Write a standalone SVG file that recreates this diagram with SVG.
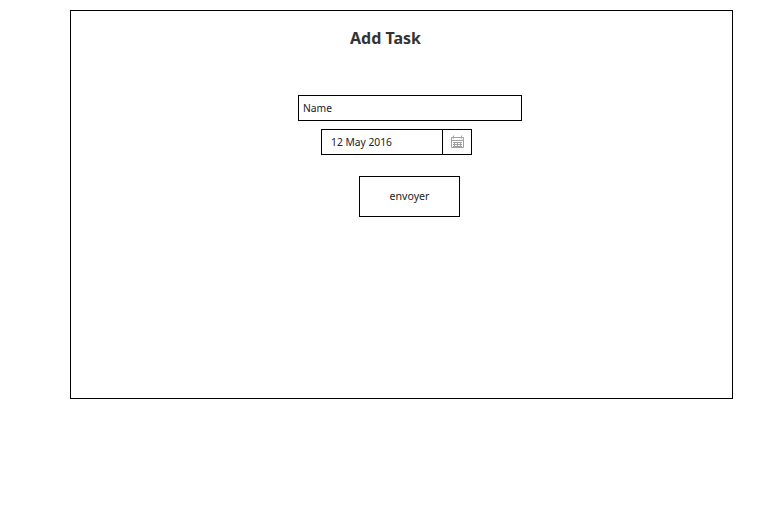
<svg xmlns="http://www.w3.org/2000/svg" width="782" height="508" viewBox="0 0 782 508">
<style>
rect{fill:#fff;stroke:#000;stroke-width:1}
text{font-family:"Noto Sans","Open Sans",sans-serif;font-size:11px;fill:#222}
.i{fill:none;stroke:#a0a0a0;stroke-width:1}
</style>
<rect width="782" height="508" style="stroke:none"/>
<g id="frame"><rect x="70.500" y="10.500" width="662" height="388"/></g>
<g id="title"><text x="350" y="43.500" style="font-size:16px;font-weight:700;fill:#333" textLength="71" lengthAdjust="spacingAndGlyphs">Add Task</text></g>
<g id="name-field"><rect x="298.500" y="95.500" width="223" height="25"/><text x="303" y="111.500" textLength="29" lengthAdjust="spacingAndGlyphs">Name</text></g>
<g id="date-field"><rect x="321.500" y="129.500" width="150" height="25"/><path d="M442.500 129.500V154.500" stroke="#000" fill="none"/><text x="331" y="145.500" textLength="61" lengthAdjust="spacingAndGlyphs">12 May 2016</text>
<path class="i" d="M451.500 137.500h12v10h-12zM451.500 140.500h12M453.500 135.500v3M461.500 135.500v3M453 142.500h9M453 144.500h9M453 146.500h9M454.500 142v4.500M457.500 142v4.500M460.500 142v4.500"/></g>
<g id="submit-button"><rect x="359.500" y="176.500" width="100" height="40"/><text x="409.500" y="200" text-anchor="middle" textLength="40" lengthAdjust="spacingAndGlyphs">envoyer</text></g>
<g id="connectors"/>
</svg>
